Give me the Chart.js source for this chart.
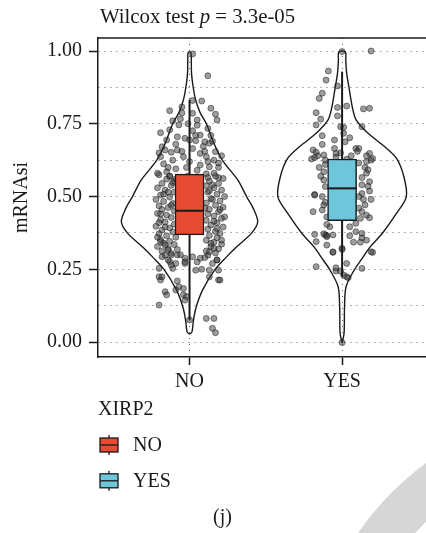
<!DOCTYPE html>
<html>
<head>
<meta charset="utf-8">
<script src="https://cdn.jsdelivr.net/npm/chart.js@4.4.1/dist/chart.umd.min.js"></script>
<style>
  html, body { margin: 0; padding: 0; background: #ffffff; }
  canvas { display: block; }
</style>
</head>
<body>
<canvas id="chart" width="426" height="533"></canvas>
<script>
// ---- data -------------------------------------------------------------
const categories = ['NO', 'YES'];
const groupPositions = [1, 2];
const groupName = 'XIRP2';
const titleParts = ['Wilcox test ', 'p', ' = 3.3e-05'];
const yTitle = 'mRNAsi';
const caption = '(j)';

const yMajorTicks = [0, 0.25, 0.5, 0.75, 1];
const yTickLabels = ['0.00', '0.25', '0.50', '0.75', '1.00'];
const yMinorTicks = [0.125, 0.375, 0.625, 0.875];

// box statistics per group
const q1 = [0.368, 0.417];
const medians = [0.451, 0.528];
const q3 = [0.577, 0.629];
const whiskerLow = [0.076, 0.224];
const whiskerHigh = [0.832, 0.929];

// violin outlines: value levels and half-widths (in category units)
const noViolinLevels = [0.027, 0.035, 0.076, 0.121, 0.179, 0.247, 0.290, 0.327, 0.375, 0.413, 0.460, 0.499, 0.557, 0.623, 0.685, 0.748, 0.790, 0.832, 0.872, 0.924, 0.993, 0.997];
const noViolinHalfWidth = [0, 0.016, 0.026, 0.044, 0.086, 0.164, 0.238, 0.309, 0.408, 0.447, 0.417, 0.375, 0.316, 0.217, 0.158, 0.112, 0.068, 0.040, 0.025, 0.013, 0.010, 0];
const yesViolinLevels = [-0.004, 0.030, 0.121, 0.190, 0.247, 0.290, 0.327, 0.373, 0.441, 0.499, 0.568, 0.631, 0.671, 0.717, 0.763, 0.810, 0.872, 0.924, 0.970, 0.996, 1.000];
const yesViolinHalfWidth = [0, 0.013, 0.016, 0.026, 0.079, 0.135, 0.184, 0.263, 0.355, 0.421, 0.405, 0.357, 0.280, 0.170, 0.092, 0.066, 0.046, 0.030, 0.024, 0.023, 0];

// individual samples: [jitter, mRNAsi]
const noPoints = [
  [0.02,0.990],[0.12,0.915],[0.02,0.830],[0.08,0.828],[-0.13,0.795],[-0.05,0.808],[-0.05,0.787],[-0.06,0.766],
  [-0.11,0.760],[0.02,0.786],[0.05,0.763],[0.14,0.803],[0.17,0.783],[0.18,0.763],[-0.07,0.746],[-0.19,0.719],
  [-0.13,0.729],[0.12,0.734],[0.02,0.726],[0.07,0.711],[-0.03,0.700],[0.00,0.694],[0.04,0.692],[0.10,0.688],
  [0.13,0.683],[-0.15,0.694],[-0.18,0.671],[-0.08,0.660],[0.02,0.665],[0.17,0.654],[0.07,0.648],[-0.04,0.637],
  [-0.19,0.637],[0.11,0.637],[0.16,0.625],[-0.11,0.625],[0.00,0.620],[-0.17,0.612],[0.07,0.608],[0.13,0.602],
  [0.19,0.600],[-0.15,0.585],[-0.21,0.580],[-0.13,0.570],[0.16,0.580],[0.19,0.565],[-0.05,0.655],[0.09,0.672],
  [-0.12,0.652],[0.15,0.690],[-0.16,0.660],[0.10,0.655],[-0.01,0.750],[0.05,0.745],[-0.09,0.680],[0.12,0.620],
  [-0.14,0.600],[0.04,0.710],[-0.08,0.705],[0.14,0.710],[-0.20,0.650],[0.21,0.640],[-0.02,0.600],[0.05,0.590],
  [-0.09,0.595],[0.19,0.615],
  [-0.20,0.575],[-0.15,0.560],[-0.10,0.553],[-0.18,0.545],[-0.12,0.538],[-0.21,0.530],[-0.16,0.522],[-0.10,0.515],
  [-0.19,0.505],[-0.13,0.498],[-0.22,0.490],[-0.17,0.483],[-0.11,0.476],[-0.20,0.468],[-0.14,0.462],[-0.18,0.455],
  [-0.10,0.450],[-0.21,0.442],[-0.15,0.436],[-0.12,0.428],[-0.19,0.420],[-0.16,0.412],[-0.10,0.405],[-0.22,0.398],
  [-0.13,0.392],[-0.18,0.385],[-0.11,0.378],[-0.20,0.372],[-0.15,0.365],[-0.09,0.360],[-0.19,0.352],[-0.13,0.346],
  [-0.17,0.340],[-0.10,0.335],[-0.21,0.328],[-0.14,0.322],[-0.08,0.318],[-0.18,0.312],[-0.12,0.305],[-0.16,0.298],
  [-0.09,0.560],[-0.17,0.508],[-0.12,0.470],[-0.16,0.395],[-0.21,0.360],[-0.11,0.548],[-0.19,0.440],[-0.14,0.515],
  [-0.20,0.410],[-0.13,0.570],
  [0.11,0.578],[0.17,0.570],[0.22,0.562],[0.13,0.553],[0.19,0.545],[0.11,0.537],[0.16,0.530],[0.21,0.522],
  [0.12,0.515],[0.18,0.508],[0.23,0.500],[0.14,0.493],[0.20,0.485],[0.11,0.478],[0.17,0.470],[0.22,0.463],
  [0.13,0.456],[0.19,0.448],[0.12,0.440],[0.16,0.433],[0.21,0.425],[0.11,0.418],[0.18,0.410],[0.14,0.402],
  [0.22,0.395],[0.12,0.388],[0.17,0.380],[0.20,0.373],[0.13,0.366],[0.18,0.358],[0.11,0.350],[0.16,0.343],
  [0.21,0.336],[0.14,0.328],[0.19,0.320],[0.11,0.313],[0.17,0.306],[0.12,0.298],[0.15,0.540],[0.20,0.455],
  [0.13,0.520],[0.18,0.390],[0.10,0.460],[0.23,0.430],[0.15,0.490],[0.21,0.350],[0.12,0.565],[0.16,0.415],
  [-0.05,0.550],[0.03,0.520],[-0.02,0.480],[0.06,0.450],[-0.07,0.420],[0.01,0.400],[0.04,0.500],[-0.03,0.380],
  [0.07,0.560],[-0.06,0.470],[0.02,0.430],[-0.01,0.570],
  [-0.19,0.345],[-0.16,0.333],[-0.14,0.316],[-0.18,0.293],[-0.12,0.299],[-0.08,0.299],[-0.03,0.288],[0.02,0.293],
  [0.07,0.288],[0.13,0.310],[0.18,0.282],[0.14,0.339],[0.16,0.322],[-0.14,0.282],[-0.09,0.270],[-0.03,0.270],
  [0.04,0.247],[0.08,0.250],[0.13,0.247],[0.19,0.247],[-0.20,0.224],[-0.19,0.213],[0.19,0.213],[0.13,0.224],
  [-0.16,0.173],[-0.15,0.162],[-0.07,0.190],[-0.04,0.162],[-0.02,0.156],[-0.09,0.179],[-0.20,0.127],[-0.03,0.144],
  [0.11,0.081],[0.16,0.081],[0.15,0.047],[0.17,0.032],[-0.04,0.184],[-0.18,0.224],[0.20,0.213],[-0.11,0.253],
  [-0.13,0.276],[-0.03,0.276],[0.18,0.282],[-0.20,0.253],[-0.06,0.300],[0.10,0.290],[-0.12,0.265],[0.15,0.270],
  [0.05,0.275],[-0.08,0.210],[0.00,0.076]
];

const yesPoints = [
  [0.19,1.000],[0.00,0.998],[-0.09,0.931],[-0.105,0.900],[-0.03,0.880],[-0.13,0.855],[-0.15,0.837],[-0.03,0.806],
  [0.03,0.811],[0.14,0.801],[0.18,0.803],[-0.17,0.788],[-0.03,0.777],[-0.14,0.766],[-0.17,0.746],[-0.01,0.740],
  [0.01,0.738],[0.13,0.740],[-0.13,0.709],[0.01,0.717],[-0.05,0.694],[0.05,0.702],[0.02,0.688],[-0.13,0.679],
  [-0.19,0.660],[-0.17,0.652],[-0.05,0.665],[-0.04,0.648],[0.09,0.665],[0.11,0.665],[-0.12,0.643],[-0.20,0.629],
  [0.18,0.648],[0.20,0.631],[0.16,0.620],[-0.01,0.650],[0.06,0.640],[-0.04,0.635],[-0.18,0.634],[-0.16,0.640],
  [0.10,0.655],[0.16,0.640],[0.19,0.625],[-0.11,0.625],[0.03,0.628],
  [-0.12,0.585],[-0.12,0.557],[-0.11,0.534],[-0.18,0.507],[0.18,0.551],[0.18,0.519],[0.15,0.600],[0.17,0.592],
  [0.13,0.565],[0.13,0.540],[0.13,0.510],[0.14,0.490],[0.15,0.471],[-0.19,0.448],[-0.13,0.454],[-0.12,0.471],
  [0.13,0.448],[0.16,0.436],[0.18,0.427],[0.12,0.425],[-0.11,0.610],[-0.15,0.600],[0.11,0.615],[-0.13,0.500],
  [-0.11,0.480],[0.16,0.580],[0.11,0.500],[0.19,0.490],[-0.14,0.570],[-0.10,0.430],[0.11,0.460],[0.17,0.535],
  [0.02,0.600],[-0.04,0.550],[0.05,0.500],[-0.02,0.460],[0.03,0.440],
  [-0.08,0.396],[-0.10,0.404],[0.05,0.396],[0.09,0.408],[-0.18,0.370],[-0.11,0.368],[-0.10,0.366],[-0.06,0.368],
  [-0.17,0.345],[-0.10,0.333],[0.05,0.365],[0.09,0.379],[0.13,0.373],[0.13,0.358],[0.075,0.343],[0.12,0.343],
  [0.16,0.350],[-0.06,0.308],[0.00,0.322],[0.20,0.308],[-0.17,0.259],[0.03,0.270],[-0.04,0.244],[-0.01,0.244],
  [0.13,0.253],[0.01,0.230],[0.04,0.221],[0.00,0.318],[-0.06,0.310],[0.19,0.310],[0.03,0.224],[-0.04,0.255],
  [-0.12,0.372],[-0.10,0.362],[-0.18,0.505],[0.00,-0.002]
];

// ---- styles -----------------------------------------------------------
const boxColors = ['#E54B33', '#6EC6DB'];
const ink = '#1a1a1a';
const serif = '"Liberation Serif", "Times New Roman", serif';
const gridColor = 'rgba(0,0,0,0.6)';

// ---- datasets ---------------------------------------------------------
function violinPath(center, levels, halfWidths) {
  const left = levels.map((v, i) => ({ x: center - halfWidths[i], y: v }));
  const right = levels.map((v, i) => ({ x: center + halfWidths[i], y: v })).reverse();
  return left.concat(right.slice(1));
}

const violinSets = [
  violinPath(groupPositions[0], noViolinLevels, noViolinHalfWidth),
  violinPath(groupPositions[1], yesViolinLevels, yesViolinHalfWidth)
].map(path => ({
  type: 'scatter', data: path, showLine: true, tension: 0.3, fill: false,
  borderColor: ink, borderWidth: 1.4, pointRadius: 0, order: 6
}));

const pointSets = [noPoints, yesPoints].map((pts, g) => ({
  type: 'scatter',
  data: pts.map(([j, v]) => ({ x: groupPositions[g] + j, y: v })),
  pointRadius: 3,
  backgroundColor: 'rgba(60,60,60,0.5)',
  borderColor: 'rgba(20,20,20,0.6)',
  borderWidth: 0.8,
  order: 5
}));

const whiskerSets = groupPositions.map((pos, g) => ({
  type: 'scatter',
  data: [{ x: pos, y: whiskerLow[g] }, { x: pos, y: whiskerHigh[g] }],
  showLine: true, borderColor: ink, borderWidth: 2, pointRadius: 0, order: 4
}));

const boxSet = {
  type: 'bar',
  data: groupPositions.map((pos, g) => ({ x: pos, y: [q1[g], q3[g]] })),
  backgroundColor: boxColors,
  borderColor: ink,
  borderWidth: 1.5,
  borderSkipped: false,
  barThickness: 29,
  grouped: false,
  order: 3
};

const medianSet = {
  type: 'scatter',
  data: groupPositions.map((pos, g) => ({ x: pos, y: medians[g] })),
  pointStyle: 'line', pointRadius: 14.5, borderColor: ink, borderWidth: 2,
  order: 2
};

// ---- decorations: title, frame, legend, caption -----------------------
function drawLegendIcon(ctx, x, y, color) {
  ctx.strokeStyle = ink;
  ctx.lineWidth = 1.3;
  ctx.beginPath();
  ctx.moveTo(x + 9, y - 3); ctx.lineTo(x + 9, y);
  ctx.moveTo(x + 9, y + 14); ctx.lineTo(x + 9, y + 17);
  ctx.stroke();
  ctx.fillStyle = color;
  ctx.fillRect(x, y, 18, 14);
  ctx.strokeRect(x, y, 18, 14);
  ctx.beginPath();
  ctx.moveTo(x, y + 7); ctx.lineTo(x + 18, y + 7);
  ctx.stroke();
}

const decor = {
  id: 'decor',
  beforeDraw(chart) {
    const { ctx, width, height } = chart;
    ctx.save();
    ctx.fillStyle = '#ffffff';
    ctx.fillRect(0, 0, width, height);
    // pale grey swoosh in the lower-right corner
    ctx.beginPath();
    ctx.arc(600, 700, 294, 0, Math.PI * 2);
    ctx.arc(600, 700, 249, 0, Math.PI * 2, true);
    ctx.fillStyle = '#d6d6d6';
    ctx.fill();
    ctx.restore();
  },
  afterDraw(chart) {
    const { ctx, chartArea } = chart;
    ctx.save();
    // top edge of the panel frame
    ctx.strokeStyle = ink;
    ctx.lineWidth = 1.5;
    ctx.beginPath();
    ctx.moveTo(chartArea.left, chartArea.top);
    ctx.lineTo(chart.width, chartArea.top);
    ctx.stroke();

    // title with italic p
    ctx.fillStyle = ink;
    ctx.textBaseline = 'alphabetic';
    ctx.textAlign = 'left';
    let x = 100;
    titleParts.forEach((part, i) => {
      ctx.font = (i === 1 ? 'italic ' : '') + '20.8px ' + serif;
      ctx.fillText(part, x, 23);
      x += ctx.measureText(part).width;
    });

    // legend
    ctx.font = '20px ' + serif;
    ctx.fillText(groupName, 98, 415);
    categories.forEach((c, i) => {
      const top = 438 + i * 35.8;
      drawLegendIcon(ctx, 100, top, boxColors[i]);
      ctx.fillStyle = ink;
      ctx.fillText(c, 133, top + 12.7);
    });

    // panel caption
    ctx.textAlign = 'center';
    ctx.fillText(caption, 222.5, 523);
    ctx.restore();
  }
};

// ---- chart ------------------------------------------------------------
new Chart(document.getElementById('chart'), {
  type: 'scatter',
  data: { datasets: [medianSet, boxSet, ...whiskerSets, ...pointSets, ...violinSets] },
  options: {
    responsive: false,
    animation: false,
    events: [],
    layout: { autoPadding: false, padding: { top: 38, right: 0, bottom: 0, left: 0 } },
    plugins: {
      legend: { display: false },
      tooltip: { enabled: false },
      title: { display: false }
    },
    scales: {
      x: {
        type: 'linear',
        min: 0.4,
        max: 2.55,
        offset: false,
        afterBuildTicks: s => { s.ticks = groupPositions.map(v => ({ value: v })); },
        afterFit: s => { s.height = 176; s.paddingLeft = 0; s.paddingRight = 0; },
        ticks: {
          autoSkip: false,
          maxRotation: 0,
          padding: 5,
          color: ink,
          font: { family: serif, size: 20 },
          callback: v => categories[groupPositions.indexOf(v)] ?? ''
        },
        grid: {
          offset: false,
          color: gridColor,
          lineWidth: 1,
          tickLength: 8,
          tickWidth: 1.5,
          tickColor: ink,
          tickBorderDash: []
        },
        border: { display: true, color: ink, width: 1.5, dash: [1, 5] }
      },
      y: {
        type: 'linear',
        min: -0.0515,
        max: 1.0447,
        afterBuildTicks: s => {
          s.ticks = yMajorTicks.concat(yMinorTicks).sort((a, b) => a - b).map(v => ({ value: v }));
        },
        afterFit: s => { s.width = 98; },
        ticks: {
          autoSkip: false,
          padding: 7,
          color: ink,
          font: { family: serif, size: 20 },
          callback: v => {
            const i = yMajorTicks.indexOf(v);
            return i >= 0 ? yTickLabels[i] : '';
          }
        },
        grid: {
          color: gridColor,
          lineWidth: 1,
          tickLength: 9,
          tickWidth: 1.5,
          tickColor: c => (yMajorTicks.includes(c.tick && c.tick.value) ? ink : 'rgba(0,0,0,0)'),
          tickBorderDash: []
        },
        border: { display: true, color: ink, width: 1.5, dash: [1, 5] },
        title: {
          display: true,
          text: yTitle,
          color: ink,
          font: { family: serif, size: 20 },
          padding: { top: 10, bottom: 0 }
        }
      }
    }
  },
  plugins: [decor]
});
</script>
</body>
</html>
